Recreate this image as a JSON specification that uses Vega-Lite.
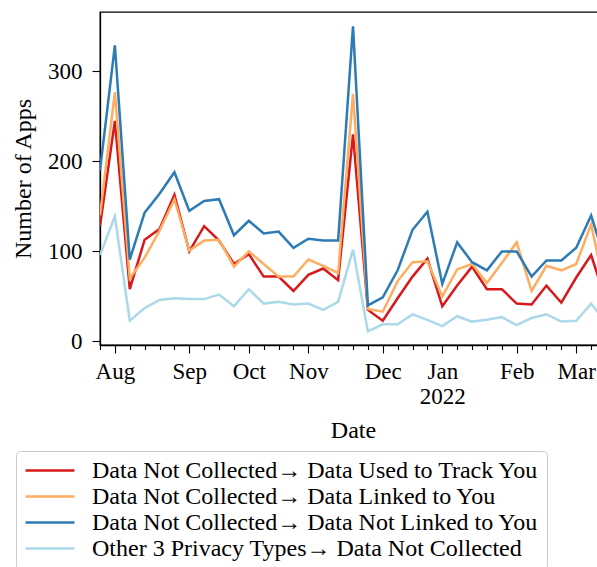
{
  "$schema": "https://vega.github.io/schema/vega-lite/v6.json",
  "width": 506,
  "height": 333,
  "autosize": {"type": "none"},
  "padding": {"left": 100, "top": 12, "right": -9, "bottom": 222},
  "background": "white",
  "config": {
    "view": {"stroke": "black", "strokeWidth": 1.3},
    "font": "Liberation Serif",
    "axis": {"domainColor": "black", "tickColor": "black", "labelColor": "black", "titleColor": "black", "grid": false, "domainWidth": 1.3, "tickWidth": 1.1, "labelFont": "Liberation Serif", "titleFont": "Liberation Serif", "titleFontWeight": "normal"}
  },
  "data": {"values": [
    {"date": "2021/07/26", "series": "Data Not Collected→ Data Used to Track You", "apps": 128},
    {"date": "2021/08/02", "series": "Data Not Collected→ Data Used to Track You", "apps": 245},
    {"date": "2021/08/09", "series": "Data Not Collected→ Data Used to Track You", "apps": 58},
    {"date": "2021/08/16", "series": "Data Not Collected→ Data Used to Track You", "apps": 113},
    {"date": "2021/08/23", "series": "Data Not Collected→ Data Used to Track You", "apps": 125},
    {"date": "2021/08/30", "series": "Data Not Collected→ Data Used to Track You", "apps": 163},
    {"date": "2021/09/06", "series": "Data Not Collected→ Data Used to Track You", "apps": 100},
    {"date": "2021/09/13", "series": "Data Not Collected→ Data Used to Track You", "apps": 128},
    {"date": "2021/09/20", "series": "Data Not Collected→ Data Used to Track You", "apps": 112},
    {"date": "2021/09/27", "series": "Data Not Collected→ Data Used to Track You", "apps": 86},
    {"date": "2021/10/04", "series": "Data Not Collected→ Data Used to Track You", "apps": 97},
    {"date": "2021/10/11", "series": "Data Not Collected→ Data Used to Track You", "apps": 72},
    {"date": "2021/10/18", "series": "Data Not Collected→ Data Used to Track You", "apps": 72},
    {"date": "2021/10/25", "series": "Data Not Collected→ Data Used to Track You", "apps": 56},
    {"date": "2021/11/01", "series": "Data Not Collected→ Data Used to Track You", "apps": 74},
    {"date": "2021/11/08", "series": "Data Not Collected→ Data Used to Track You", "apps": 81},
    {"date": "2021/11/15", "series": "Data Not Collected→ Data Used to Track You", "apps": 68},
    {"date": "2021/11/22", "series": "Data Not Collected→ Data Used to Track You", "apps": 230},
    {"date": "2021/11/29", "series": "Data Not Collected→ Data Used to Track You", "apps": 35},
    {"date": "2021/12/06", "series": "Data Not Collected→ Data Used to Track You", "apps": 23},
    {"date": "2021/12/13", "series": "Data Not Collected→ Data Used to Track You", "apps": 48},
    {"date": "2021/12/20", "series": "Data Not Collected→ Data Used to Track You", "apps": 72},
    {"date": "2021/12/27", "series": "Data Not Collected→ Data Used to Track You", "apps": 92},
    {"date": "2022/01/03", "series": "Data Not Collected→ Data Used to Track You", "apps": 39},
    {"date": "2022/01/10", "series": "Data Not Collected→ Data Used to Track You", "apps": 62},
    {"date": "2022/01/17", "series": "Data Not Collected→ Data Used to Track You", "apps": 83},
    {"date": "2022/01/24", "series": "Data Not Collected→ Data Used to Track You", "apps": 58},
    {"date": "2022/01/31", "series": "Data Not Collected→ Data Used to Track You", "apps": 58},
    {"date": "2022/02/07", "series": "Data Not Collected→ Data Used to Track You", "apps": 42},
    {"date": "2022/02/14", "series": "Data Not Collected→ Data Used to Track You", "apps": 41},
    {"date": "2022/02/21", "series": "Data Not Collected→ Data Used to Track You", "apps": 62},
    {"date": "2022/02/28", "series": "Data Not Collected→ Data Used to Track You", "apps": 43},
    {"date": "2022/03/07", "series": "Data Not Collected→ Data Used to Track You", "apps": 71},
    {"date": "2022/03/14", "series": "Data Not Collected→ Data Used to Track You", "apps": 96},
    {"date": "2022/03/21", "series": "Data Not Collected→ Data Used to Track You", "apps": 45},
    {"date": "2021/07/26", "series": "Data Not Collected→ Data Linked to You", "apps": 140},
    {"date": "2021/08/02", "series": "Data Not Collected→ Data Linked to You", "apps": 277},
    {"date": "2021/08/09", "series": "Data Not Collected→ Data Linked to You", "apps": 70},
    {"date": "2021/08/16", "series": "Data Not Collected→ Data Linked to You", "apps": 93},
    {"date": "2021/08/23", "series": "Data Not Collected→ Data Linked to You", "apps": 123},
    {"date": "2021/08/30", "series": "Data Not Collected→ Data Linked to You", "apps": 158},
    {"date": "2021/09/06", "series": "Data Not Collected→ Data Linked to You", "apps": 101},
    {"date": "2021/09/13", "series": "Data Not Collected→ Data Linked to You", "apps": 112},
    {"date": "2021/09/20", "series": "Data Not Collected→ Data Linked to You", "apps": 113},
    {"date": "2021/09/27", "series": "Data Not Collected→ Data Linked to You", "apps": 83},
    {"date": "2021/10/04", "series": "Data Not Collected→ Data Linked to You", "apps": 100},
    {"date": "2021/10/11", "series": "Data Not Collected→ Data Linked to You", "apps": 86},
    {"date": "2021/10/18", "series": "Data Not Collected→ Data Linked to You", "apps": 72},
    {"date": "2021/10/25", "series": "Data Not Collected→ Data Linked to You", "apps": 72},
    {"date": "2021/11/01", "series": "Data Not Collected→ Data Linked to You", "apps": 91},
    {"date": "2021/11/08", "series": "Data Not Collected→ Data Linked to You", "apps": 84},
    {"date": "2021/11/15", "series": "Data Not Collected→ Data Linked to You", "apps": 76},
    {"date": "2021/11/22", "series": "Data Not Collected→ Data Linked to You", "apps": 275},
    {"date": "2021/11/29", "series": "Data Not Collected→ Data Linked to You", "apps": 36},
    {"date": "2021/12/06", "series": "Data Not Collected→ Data Linked to You", "apps": 33},
    {"date": "2021/12/13", "series": "Data Not Collected→ Data Linked to You", "apps": 67},
    {"date": "2021/12/20", "series": "Data Not Collected→ Data Linked to You", "apps": 88},
    {"date": "2021/12/27", "series": "Data Not Collected→ Data Linked to You", "apps": 89},
    {"date": "2022/01/03", "series": "Data Not Collected→ Data Linked to You", "apps": 50},
    {"date": "2022/01/10", "series": "Data Not Collected→ Data Linked to You", "apps": 80},
    {"date": "2022/01/17", "series": "Data Not Collected→ Data Linked to You", "apps": 86},
    {"date": "2022/01/24", "series": "Data Not Collected→ Data Linked to You", "apps": 65},
    {"date": "2022/01/31", "series": "Data Not Collected→ Data Linked to You", "apps": 87},
    {"date": "2022/02/07", "series": "Data Not Collected→ Data Linked to You", "apps": 110},
    {"date": "2022/02/14", "series": "Data Not Collected→ Data Linked to You", "apps": 56},
    {"date": "2022/02/21", "series": "Data Not Collected→ Data Linked to You", "apps": 84},
    {"date": "2022/02/28", "series": "Data Not Collected→ Data Linked to You", "apps": 79},
    {"date": "2022/03/07", "series": "Data Not Collected→ Data Linked to You", "apps": 86},
    {"date": "2022/03/14", "series": "Data Not Collected→ Data Linked to You", "apps": 130},
    {"date": "2022/03/21", "series": "Data Not Collected→ Data Linked to You", "apps": 53},
    {"date": "2021/07/26", "series": "Data Not Collected→ Data Not Linked to You", "apps": 190},
    {"date": "2021/08/02", "series": "Data Not Collected→ Data Not Linked to You", "apps": 329},
    {"date": "2021/08/09", "series": "Data Not Collected→ Data Not Linked to You", "apps": 91},
    {"date": "2021/08/16", "series": "Data Not Collected→ Data Not Linked to You", "apps": 143},
    {"date": "2021/08/23", "series": "Data Not Collected→ Data Not Linked to You", "apps": 164},
    {"date": "2021/08/30", "series": "Data Not Collected→ Data Not Linked to You", "apps": 188},
    {"date": "2021/09/06", "series": "Data Not Collected→ Data Not Linked to You", "apps": 145},
    {"date": "2021/09/13", "series": "Data Not Collected→ Data Not Linked to You", "apps": 156},
    {"date": "2021/09/20", "series": "Data Not Collected→ Data Not Linked to You", "apps": 158},
    {"date": "2021/09/27", "series": "Data Not Collected→ Data Not Linked to You", "apps": 118},
    {"date": "2021/10/04", "series": "Data Not Collected→ Data Not Linked to You", "apps": 134},
    {"date": "2021/10/11", "series": "Data Not Collected→ Data Not Linked to You", "apps": 120},
    {"date": "2021/10/18", "series": "Data Not Collected→ Data Not Linked to You", "apps": 122},
    {"date": "2021/10/25", "series": "Data Not Collected→ Data Not Linked to You", "apps": 104},
    {"date": "2021/11/01", "series": "Data Not Collected→ Data Not Linked to You", "apps": 114},
    {"date": "2021/11/08", "series": "Data Not Collected→ Data Not Linked to You", "apps": 112},
    {"date": "2021/11/15", "series": "Data Not Collected→ Data Not Linked to You", "apps": 112},
    {"date": "2021/11/22", "series": "Data Not Collected→ Data Not Linked to You", "apps": 350},
    {"date": "2021/11/29", "series": "Data Not Collected→ Data Not Linked to You", "apps": 40},
    {"date": "2021/12/06", "series": "Data Not Collected→ Data Not Linked to You", "apps": 49},
    {"date": "2021/12/13", "series": "Data Not Collected→ Data Not Linked to You", "apps": 79},
    {"date": "2021/12/20", "series": "Data Not Collected→ Data Not Linked to You", "apps": 124},
    {"date": "2021/12/27", "series": "Data Not Collected→ Data Not Linked to You", "apps": 144},
    {"date": "2022/01/03", "series": "Data Not Collected→ Data Not Linked to You", "apps": 64},
    {"date": "2022/01/10", "series": "Data Not Collected→ Data Not Linked to You", "apps": 110},
    {"date": "2022/01/17", "series": "Data Not Collected→ Data Not Linked to You", "apps": 88},
    {"date": "2022/01/24", "series": "Data Not Collected→ Data Not Linked to You", "apps": 79},
    {"date": "2022/01/31", "series": "Data Not Collected→ Data Not Linked to You", "apps": 100},
    {"date": "2022/02/07", "series": "Data Not Collected→ Data Not Linked to You", "apps": 100},
    {"date": "2022/02/14", "series": "Data Not Collected→ Data Not Linked to You", "apps": 72},
    {"date": "2022/02/21", "series": "Data Not Collected→ Data Not Linked to You", "apps": 90},
    {"date": "2022/02/28", "series": "Data Not Collected→ Data Not Linked to You", "apps": 90},
    {"date": "2022/03/07", "series": "Data Not Collected→ Data Not Linked to You", "apps": 104},
    {"date": "2022/03/14", "series": "Data Not Collected→ Data Not Linked to You", "apps": 140},
    {"date": "2022/03/21", "series": "Data Not Collected→ Data Not Linked to You", "apps": 87},
    {"date": "2021/07/26", "series": "Other 3 Privacy Types→ Data Not Collected", "apps": 96},
    {"date": "2021/08/02", "series": "Other 3 Privacy Types→ Data Not Collected", "apps": 139},
    {"date": "2021/08/09", "series": "Other 3 Privacy Types→ Data Not Collected", "apps": 23},
    {"date": "2021/08/16", "series": "Other 3 Privacy Types→ Data Not Collected", "apps": 37},
    {"date": "2021/08/23", "series": "Other 3 Privacy Types→ Data Not Collected", "apps": 46},
    {"date": "2021/08/30", "series": "Other 3 Privacy Types→ Data Not Collected", "apps": 48},
    {"date": "2021/09/06", "series": "Other 3 Privacy Types→ Data Not Collected", "apps": 47},
    {"date": "2021/09/13", "series": "Other 3 Privacy Types→ Data Not Collected", "apps": 47},
    {"date": "2021/09/20", "series": "Other 3 Privacy Types→ Data Not Collected", "apps": 52},
    {"date": "2021/09/27", "series": "Other 3 Privacy Types→ Data Not Collected", "apps": 39},
    {"date": "2021/10/04", "series": "Other 3 Privacy Types→ Data Not Collected", "apps": 58},
    {"date": "2021/10/11", "series": "Other 3 Privacy Types→ Data Not Collected", "apps": 42},
    {"date": "2021/10/18", "series": "Other 3 Privacy Types→ Data Not Collected", "apps": 44},
    {"date": "2021/10/25", "series": "Other 3 Privacy Types→ Data Not Collected", "apps": 41},
    {"date": "2021/11/01", "series": "Other 3 Privacy Types→ Data Not Collected", "apps": 42},
    {"date": "2021/11/08", "series": "Other 3 Privacy Types→ Data Not Collected", "apps": 35},
    {"date": "2021/11/15", "series": "Other 3 Privacy Types→ Data Not Collected", "apps": 44},
    {"date": "2021/11/22", "series": "Other 3 Privacy Types→ Data Not Collected", "apps": 102},
    {"date": "2021/11/29", "series": "Other 3 Privacy Types→ Data Not Collected", "apps": 11},
    {"date": "2021/12/06", "series": "Other 3 Privacy Types→ Data Not Collected", "apps": 19},
    {"date": "2021/12/13", "series": "Other 3 Privacy Types→ Data Not Collected", "apps": 19},
    {"date": "2021/12/20", "series": "Other 3 Privacy Types→ Data Not Collected", "apps": 30},
    {"date": "2021/12/27", "series": "Other 3 Privacy Types→ Data Not Collected", "apps": 24},
    {"date": "2022/01/03", "series": "Other 3 Privacy Types→ Data Not Collected", "apps": 17},
    {"date": "2022/01/10", "series": "Other 3 Privacy Types→ Data Not Collected", "apps": 28},
    {"date": "2022/01/17", "series": "Other 3 Privacy Types→ Data Not Collected", "apps": 22},
    {"date": "2022/01/24", "series": "Other 3 Privacy Types→ Data Not Collected", "apps": 24},
    {"date": "2022/01/31", "series": "Other 3 Privacy Types→ Data Not Collected", "apps": 27},
    {"date": "2022/02/07", "series": "Other 3 Privacy Types→ Data Not Collected", "apps": 18},
    {"date": "2022/02/14", "series": "Other 3 Privacy Types→ Data Not Collected", "apps": 26},
    {"date": "2022/02/21", "series": "Other 3 Privacy Types→ Data Not Collected", "apps": 30},
    {"date": "2022/02/28", "series": "Other 3 Privacy Types→ Data Not Collected", "apps": 22},
    {"date": "2022/03/07", "series": "Other 3 Privacy Types→ Data Not Collected", "apps": 23},
    {"date": "2022/03/14", "series": "Other 3 Privacy Types→ Data Not Collected", "apps": 42},
    {"date": "2022/03/21", "series": "Other 3 Privacy Types→ Data Not Collected", "apps": 21}
  ]},
  "mark": {"type": "line", "strokeWidth": 2.5, "clip": true},
  "encoding": {
    "x": {
      "field": "date",
      "type": "temporal",
      "scale": {"domain": [{"year": 2021, "month": 7, "date": 26}, {"year": 2022, "month": 3, "date": 21}]},
      "axis": {
        "title": "Date",
        "titleFontSize": 24,
        "titlePadding": 10,
        "labelFontSize": 23,
        "labelPadding": 7,
        "labelLineHeight": 25,
        "labelOverlap": false,
        "labelFlush": false,
        "labelBound": false,
        "tickSize": {"condition": {"test": "date(datum.value) <= 7", "value": 8}, "value": 4.5},
        "labelExpr": "date(datum.value) <= 7 ? (month(datum.value) == 0 ? [timeFormat(datum.value, '%b'), '2022'] : timeFormat(datum.value, '%b')) : ''",
        "values": [
          {"year": 2021, "month": 7, "date": 26}, {"year": 2021, "month": 8, "date": 2}, {"year": 2021, "month": 8, "date": 9}, {"year": 2021, "month": 8, "date": 16}, {"year": 2021, "month": 8, "date": 23}, {"year": 2021, "month": 8, "date": 30},
          {"year": 2021, "month": 9, "date": 6}, {"year": 2021, "month": 9, "date": 13}, {"year": 2021, "month": 9, "date": 20}, {"year": 2021, "month": 9, "date": 27},
          {"year": 2021, "month": 10, "date": 4}, {"year": 2021, "month": 10, "date": 11}, {"year": 2021, "month": 10, "date": 18}, {"year": 2021, "month": 10, "date": 25},
          {"year": 2021, "month": 11, "date": 1}, {"year": 2021, "month": 11, "date": 8}, {"year": 2021, "month": 11, "date": 15}, {"year": 2021, "month": 11, "date": 22}, {"year": 2021, "month": 11, "date": 29},
          {"year": 2021, "month": 12, "date": 6}, {"year": 2021, "month": 12, "date": 13}, {"year": 2021, "month": 12, "date": 20}, {"year": 2021, "month": 12, "date": 27},
          {"year": 2022, "month": 1, "date": 3}, {"year": 2022, "month": 1, "date": 10}, {"year": 2022, "month": 1, "date": 17}, {"year": 2022, "month": 1, "date": 24}, {"year": 2022, "month": 1, "date": 31},
          {"year": 2022, "month": 2, "date": 7}, {"year": 2022, "month": 2, "date": 14}, {"year": 2022, "month": 2, "date": 21}, {"year": 2022, "month": 2, "date": 28},
          {"year": 2022, "month": 3, "date": 7}, {"year": 2022, "month": 3, "date": 14}, {"year": 2022, "month": 3, "date": 21}
        ]
      }
    },
    "y": {
      "field": "apps",
      "type": "quantitative",
      "scale": {"domain": [-4, 366], "nice": false, "zero": false},
      "axis": {
        "title": "Number of Apps",
        "titleFontSize": 24,
        "titlePadding": 12,
        "labelFontSize": 23,
        "labelPadding": 10,
        "tickSize": 8,
        "values": [0, 100, 200, 300]
      }
    },
    "color": {
      "field": "series",
      "type": "nominal",
      "sort": null,
      "scale": {
        "domain": ["Data Not Collected→ Data Used to Track You", "Data Not Collected→ Data Linked to You", "Data Not Collected→ Data Not Linked to You", "Other 3 Privacy Types→ Data Not Collected"],
        "range": ["#d7191c", "#fdae61", "#2c7bb6", "#abd9e9"]
      },
      "legend": {
        "title": null,
        "orient": "none",
        "legendX": -84,
        "legendY": 439,
        "fillColor": "white",
        "strokeColor": "#cccccc",
        "cornerRadius": 4,
        "padding": 8,
        "symbolType": "stroke",
        "symbolSize": 2400,
        "symbolStrokeWidth": 2.5,
        "clipHeight": 23,
        "rowPadding": 1,
        "labelFont": "Liberation Serif",
        "labelFontSize": 24,
        "labelColor": "black",
        "labelOffset": 16,
        "labelLimit": 0,
        "encode": {"legend": {"update": {"width": {"value": 620}}}}
      }
    }
  }
}
